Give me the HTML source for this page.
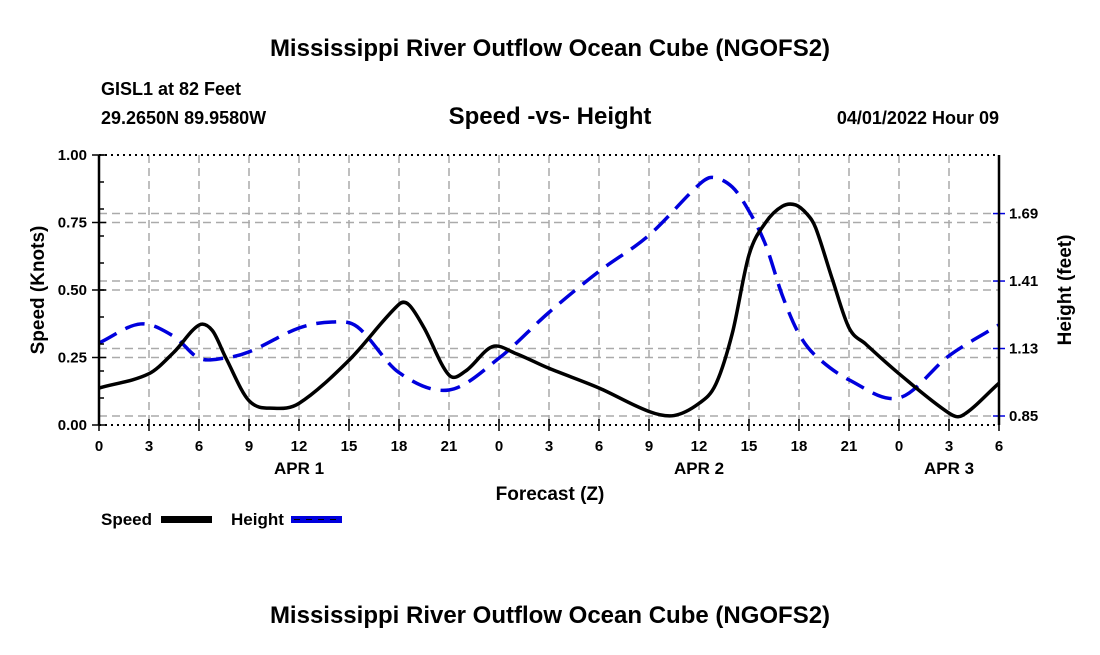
<!DOCTYPE html>
<html><head><meta charset="utf-8"><style>
body{margin:0;background:#fff;}
svg text{font-family:"Liberation Sans",Arial,sans-serif;font-weight:bold;fill:#000;}
</style></head><body>
<svg id="chart" width="1100" height="650" xmlns="http://www.w3.org/2000/svg">
<rect width="1100" height="650" fill="#fff"/>
<text x="550" y="56" font-size="24" text-anchor="middle">Mississippi River Outflow Ocean Cube (NGOFS2)</text>
<text x="101" y="95" font-size="18">GISL1 at 82 Feet</text>
<text x="101" y="124" font-size="18">29.2650N  89.9580W</text>
<text x="550" y="124" font-size="24" text-anchor="middle">Speed -vs- Height</text>
<text x="999" y="124" font-size="18" text-anchor="end">04/01/2022 Hour 09</text>
<g id="grid"></g>
<g id="series"></g>
<g id="axes"></g>
<text transform="translate(44,290) rotate(-90)" font-size="19" text-anchor="middle">Speed (Knots)</text>
<text transform="translate(1071,290) rotate(-90)" font-size="19" text-anchor="middle">Height (feet)</text>
<text x="550" y="500" font-size="19" text-anchor="middle">Forecast (Z)</text>
<text x="299" y="474" font-size="17" text-anchor="middle">APR 1</text>
<text x="699" y="474" font-size="17" text-anchor="middle">APR 2</text>
<text x="949" y="474" font-size="17" text-anchor="middle">APR 3</text>
<g>
<text x="101" y="525" font-size="17">Speed</text>
<rect x="161" y="516" width="51" height="7" fill="#000"/>
</g>
<g>
<text x="231" y="525" font-size="17">Height</text>
<rect x="291" y="516" width="51" height="7" fill="#0000dd"/>
<line x1="291" y1="519.5" x2="342" y2="519.5" stroke="#000" stroke-width="1" stroke-dasharray="6,6" stroke-dashoffset="-3"/>
</g>
<text x="550" y="623" font-size="24" text-anchor="middle">Mississippi River Outflow Ocean Cube (NGOFS2)</text>
</svg>
<script>
const speedHours=[0,3,4.5,6,6.8,7.6,9,10.5,12,15,18,18.6,19.5,21,22,23.6,25,27,30,33,34.5,36,37,38,39,40,41,41.8,42.5,43,44,45,46,48,51,51.8,54];
const speedValues=[0.137,0.19,0.27,0.37,0.35,0.25,0.09,0.062,0.08,0.24,0.447,0.445,0.36,0.185,0.2,0.29,0.265,0.21,0.137,0.05,0.035,0.08,0.15,0.34,0.63,0.75,0.81,0.815,0.78,0.73,0.54,0.36,0.30,0.19,0.044,0.035,0.155];
const heightHours=[0,2.5,4.5,6,7.5,9,12,14,15.5,18,21,24,27,30,33,36,36.8,38,39,40,41,42,43,45,48,51,54];
const heightValues=[1.153,1.232,1.18,1.09,1.09,1.116,1.215,1.24,1.22,1.03,0.958,1.09,1.28,1.45,1.60,1.81,1.84,1.80,1.70,1.56,1.35,1.19,1.10,1.0,0.925,1.10,1.228];
const xTickHours=[0,3,6,9,12,15,18,21,24,27,30,33,36,39,42,45,48,51,54];
const xTickLabels=["0","3","6","9","12","15","18","21","0","3","6","9","12","15","18","21","0","3","6"];
const speedTicks=[0,0.25,0.5,0.75,1.0];
const speedTickLabels=["0.00","0.25","0.50","0.75","1.00"];
const heightTicks=[0.85,1.13,1.41,1.69];
const heightTickLabels=["0.85","1.13","1.41","1.69"];

const X0=99,X1=999,Y0=155,Y1=425;
const xs=h=>X0+(h/54)*(X1-X0);
const ys=v=>Y1-v*(Y1-Y0);
const yh=v=>416-(v-0.85)*241;
const NS="http://www.w3.org/2000/svg";
function mk(tag,parent,attrs){const e=document.createElementNS(NS,tag);for(const k in attrs)e.setAttribute(k,attrs[k]);parent.appendChild(e);return e;}
const grid=document.getElementById('grid'),ser=document.getElementById('series'),axes=document.getElementById('axes');
const gs={stroke:"#aaa","stroke-width":1.5,"stroke-dasharray":"8,5"};
xTickHours.forEach((h,i)=>{
 if(i>0&&i<xTickHours.length-1){const l=mk('line',grid,Object.assign({x1:xs(h),x2:xs(h),y1:Y0,y2:Y1},gs));
 
 }
 const t=mk('text',axes,{x:xs(h),y:Y1+26,'font-size':15,'text-anchor':'middle'});t.textContent=xTickLabels[i];
 
 
 mk('line',axes,{x1:xs(h),x2:xs(h),y1:Y1-6,y2:Y1+6,stroke:'#000','stroke-width':1.5});
});
speedTicks.forEach((v,i)=>{
 if(i>0&&i<speedTicks.length-1){const l=mk('line',grid,Object.assign({x1:X0,x2:X1,y1:ys(v),y2:ys(v)},gs));
 
 }
 mk('line',axes,{x1:X0-7,x2:X0+7,y1:ys(v),y2:ys(v),stroke:'#000','stroke-width':1.5});
 const t=mk('text',axes,{x:X0-12,y:ys(v)+5,'font-size':15,'text-anchor':'end'});t.textContent=speedTickLabels[i];
 
 
});
for(let v=0.1;v<1;v+=0.1){mk('line',axes,{x1:X0,x2:X0+5,y1:ys(v),y2:ys(v),stroke:'#000','stroke-width':1.5});}
heightTicks.forEach((v,i)=>{
 const l=mk('line',grid,Object.assign({x1:X0,x2:X1,y1:yh(v),y2:yh(v)},gs));
 
 
 mk('line',axes,{x1:X1-6,x2:X1+6,y1:yh(v),y2:yh(v),stroke:'#0000dd','stroke-width':1.5});
 const t=mk('text',axes,{x:X1+10,y:yh(v)+5,'font-size':15});t.textContent=heightTickLabels[i];
 
 
});
mk('line',axes,{x1:X0,x2:X0,y1:Y0,y2:Y1,stroke:'#000','stroke-width':2.5});
mk('line',axes,{x1:X1,x2:X1,y1:Y0,y2:Y1,stroke:'#000','stroke-width':2.5});
mk('line',axes,{x1:X0,x2:X1,y1:Y0,y2:Y0,stroke:'#000','stroke-width':2,'stroke-dasharray':'2,4'});
mk('line',axes,{x1:X0,x2:X1,y1:Y1,y2:Y1,stroke:'#000','stroke-width':2,'stroke-dasharray':'2,4'});
function smooth(pts){let d=`M${pts[0][0]},${pts[0][1]}`;
 for(let i=0;i<pts.length-1;i++){const p0=pts[i-1]||pts[i],p1=pts[i],p2=pts[i+1],p3=pts[i+2]||p2;
  const t1=(p2[0]-p1[0])/(p2[0]-p0[0]||1),t2=(p2[0]-p1[0])/(p3[0]-p1[0]||1);
  d+=` C${p1[0]+(p2[0]-p0[0])*t1/3},${p1[1]+(p2[1]-p0[1])*t1/3} ${p2[0]-(p3[0]-p1[0])*t2/3},${p2[1]-(p3[1]-p1[1])*t2/3} ${p2[0]},${p2[1]}`;}
 return d;}
const hp=mk('path',ser,{d:smooth(heightHours.map((h,i)=>[xs(h),yh(heightValues[i])])),fill:'none',stroke:'#0000dd','stroke-width':3.5,'stroke-dasharray':'20,10'});


const sp=mk('path',ser,{d:smooth(speedHours.map((h,i)=>[xs(h),ys(speedValues[i])])),fill:'none',stroke:'#000','stroke-width':3.5});


</script>
</body></html>
